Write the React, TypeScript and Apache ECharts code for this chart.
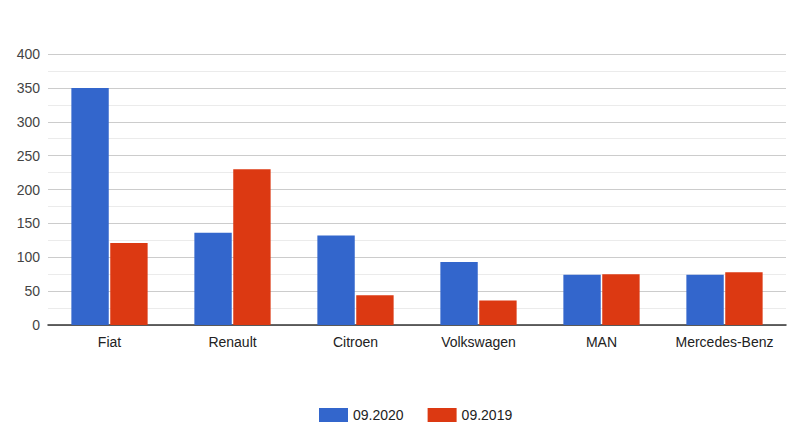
import React, { useEffect, useRef } from "react";
import * as echarts from "echarts";

const categories = ["Fiat", "Renault", "Citroen", "Volkswagen", "MAN", "Mercedes-Benz"];
const series2020 = [350, 136, 132, 93, 74, 74];
const series2019 = [121, 230, 44, 36, 75, 78];
const seriesNames = ["09.2020", "09.2019"];

export default function App() {
  const ref = useRef<HTMLDivElement>(null);
  useEffect(() => {
    const chart = echarts.init(ref.current!, null, { renderer: "svg" });
    const font = "Arial, 'Liberation Sans', sans-serif";
    chart.setOption({
      animation: false,
      textStyle: { fontFamily: font },
      grid: { left: 48, right: 24, top: 54, bottom: 113, containLabel: false },
      legend: {
        top: 403,
        left: 314,
        itemWidth: 29,
        itemHeight: 14,
        itemGap: 24,
        icon: "rect",
        textStyle: { fontSize: 14, color: "#222", fontFamily: font },
        data: seriesNames,
      },
      xAxis: {
        type: "category",
        data: categories,
        axisLine: { lineStyle: { color: "#333", width: 1.5 } },
        axisTick: { show: false },
        axisLabel: { fontSize: 14, color: "#222", margin: 10, fontFamily: font, interval: 0, hideOverlap: false },
      },
      yAxis: {
        type: "value",
        min: 0,
        max: 400,
        interval: 50,
        axisLine: { show: false },
        axisTick: { show: false },
        axisLabel: { fontSize: 14, color: "#444", margin: 8, fontFamily: font },
        splitLine: { lineStyle: { color: "#cccccc", width: 1 } },
        minorTick: { show: false, splitNumber: 2 },
        minorSplitLine: { show: true, lineStyle: { color: "#ebebeb", width: 1 } },
      },
      series: [
        {
          name: seriesNames[0],
          type: "bar",
          data: series2020,
          barGap: "4%",
          barCategoryGap: "38%",
          itemStyle: { color: "#3366cc" },
        },
        {
          name: seriesNames[1],
          type: "bar",
          data: series2019,
          barGap: "4%",
          barCategoryGap: "38%",
          itemStyle: { color: "#dc3912" },
        },
      ],
    });
    return () => chart.dispose();
  }, []);
  return <div ref={ref} style={{ width: 810, height: 438, position: "absolute", left: 0, top: 0 }} />;
}
